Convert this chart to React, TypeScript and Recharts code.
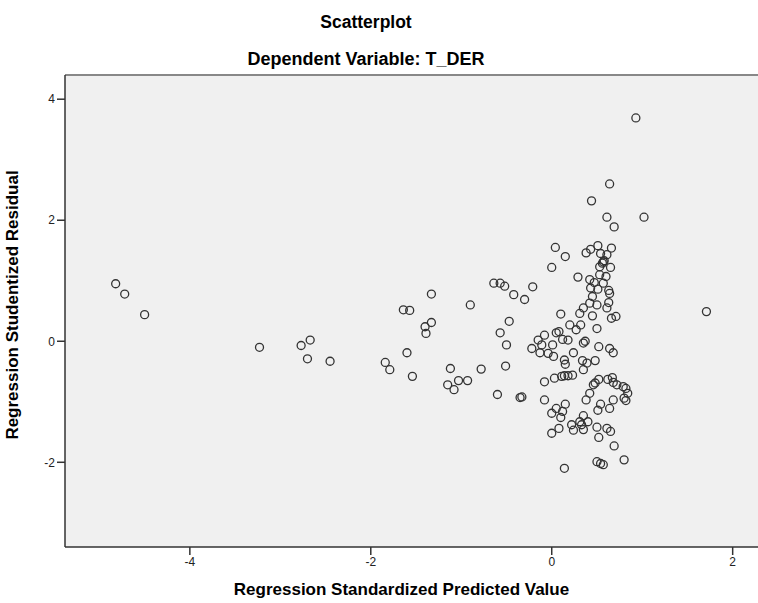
import React from "react";
import { ScatterChart, Scatter, XAxis, YAxis, CartesianGrid, ReferenceLine, Label } from "recharts";

const predicted = [
  -4.82, -4.72, -4.5, -3.23, -2.77, -2.67, -2.7, -2.45,
  -1.33, -1.64, -1.57, -1.4, -1.33, -1.39, -1.6, -1.84, -1.79, -1.54,
  -0.9, -1.12, -1.15, -1.08, -1.03, -0.93, -0.78,
  -0.64, -0.57, -0.52, -0.42, -0.47, -0.57, -0.5, -0.51, -0.6, -0.35, -0.33,
  0.93, 0.64, 0.44, 0.61, 1.02, 0.69, 0.04, 0.15, 0.0,
  0.38, 0.43, 0.51, 0.66, 0.54, 0.61, 0.57, 0.58, 0.56, 0.65, 0.53,
  0.29, 0.42, 0.53, 0.6, 0.47, 0.57, 0.43, 0.51, 0.63, 0.64, 0.45, 0.42, 0.5, 0.63, 0.61, 0.35, 0.31, 0.45, 0.66, 0.71, 0.1, 0.2, 0.32, 0.27, 0.5,
  -0.21, -0.3, -0.08, 0.05, 0.08, -0.15, -0.11, 0.12, 0.18, 0.35, 0.37, 0.01, 0.52, -0.22, 0.64,
  -0.13, -0.04, 0.02, 0.14, 0.15, 0.24, 0.34, 0.39, 0.35, 0.48, 0.68,
  -0.08, 0.03, 0.11, 0.14, 0.18, 0.23, -0.08, 0.15, 0.05, 0.12, 0.0, 0.1,
  0.52, 0.46, 0.48, 0.42, 0.38, 0.62, 0.67, 0.68, 0.72, 0.79, 0.82, 0.84, 0.8, 0.82, 0.68, 0.64, 0.54, 0.51,
  0.35, 0.4, 0.31, 0.33, 0.22, 0.24, 0.35, 0.08, 0.0, 0.5, 0.52, 0.61, 0.65, 0.69, 0.5, 0.54, 0.57, 0.8, 0.14, 1.71,
];

const residual = [
  0.95, 0.78, 0.44, -0.1, -0.07, 0.02, -0.29, -0.33,
  0.78, 0.52, 0.51, 0.24, 0.31, 0.13, -0.19, -0.35, -0.47, -0.58,
  0.6, -0.45, -0.72, -0.8, -0.65, -0.65, -0.46,
  0.96, 0.96, 0.91, 0.77, 0.33, 0.14, -0.06, -0.41, -0.88, -0.93, -0.92,
  3.69, 2.6, 2.32, 2.05, 2.05, 1.89, 1.55, 1.4, 1.22,
  1.46, 1.52, 1.58, 1.54, 1.45, 1.43, 1.31, 1.33, 1.29, 1.22, 1.23,
  1.06, 1.02, 1.1, 1.07, 0.97, 0.96, 0.88, 0.86, 0.84, 0.79, 0.74, 0.63, 0.6, 0.64, 0.55, 0.55, 0.46, 0.42, 0.38, 0.41, 0.45, 0.27, 0.27, 0.19, 0.21,
  0.9, 0.69, 0.1, 0.14, 0.16, 0.02, -0.06, 0.03, 0.02, -0.03, 0.0, -0.06, -0.09, -0.12, -0.12,
  -0.19, -0.2, -0.25, -0.31, -0.38, -0.19, -0.32, -0.36, -0.47, -0.32, -0.19,
  -0.67, -0.61, -0.58, -0.57, -0.57, -0.56, -0.97, -1.04, -1.11, -1.16, -1.19, -1.26,
  -0.63, -0.72, -0.69, -0.86, -0.97, -0.63, -0.6, -0.68, -0.72, -0.75, -0.78, -0.86, -0.94, -0.98, -0.97, -1.11, -1.04, -1.14,
  -1.23, -1.33, -1.33, -1.38, -1.38, -1.47, -1.46, -1.44, -1.52, -1.42, -1.59, -1.44, -1.49, -1.73, -1.99, -2.02, -2.04, -1.96, -2.1, 0.49,
];

const xTicks = [-4, -2, 0, 2];
const yTicks = [-2, 0, 2, 4];
const xDomain = [-5.38, 2.28];
const yDomain = [-3.4, 4.4];

const points = predicted.map((x, i) => ({ x, y: residual[i] }));

const FONT = "Arial, 'Liberation Sans', sans-serif";

const Ring = (props: any) => (
  <circle cx={props.cx} cy={props.cy} r={4} fill="none" stroke="#333" strokeWidth={1.3} />
);

export default function App() {
  return (
    <div style={{ position: "absolute", left: 0, top: 0, width: 758, height: 603, background: "#fff", fontFamily: FONT }}>
      <div style={{ position: "absolute", left: 0, width: 732, top: 12, textAlign: "center", fontWeight: "bold", fontSize: 17.5, color: "#000" }}>
        Scatterplot
      </div>
      <div style={{ position: "absolute", left: 0, width: 732, top: 49, textAlign: "center", fontSize: 18, color: "#000", fontWeight: "bold" }}>
        Dependent Variable: T_DER
      </div>
      <ScatterChart width={758} height={603} margin={{ top: 75, right: 0, bottom: 26, left: 0 }}>
        <CartesianGrid horizontal={false} vertical={false} fill="#f0f0f0" />
        <ReferenceLine y={yDomain[1]} stroke="#888" strokeWidth={2} ifOverflow="extendDomain" />
        <XAxis
          type="number"
          dataKey="x"
          domain={xDomain}
          ticks={xTicks}
          allowDataOverflow
          height={30}
          tickSize={8}
          stroke="#333"
          strokeWidth={1.5}
          tick={{ fill: "#222", fontSize: 12, fontFamily: FONT }}
        >
          <Label
            value="Regression Standardized Predicted Value"
            position="bottom"
            offset={6}
            dx={-10}
            style={{ fontWeight: "bold", fontSize: 17, fill: "#000", fontFamily: FONT }}
          />
        </XAxis>
        <YAxis
          type="number"
          dataKey="y"
          domain={yDomain}
          ticks={yTicks}
          allowDataOverflow
          width={65}
          tickSize={8}
          stroke="#333"
          strokeWidth={1.5}
          tick={{ fill: "#222", fontSize: 12, fontFamily: FONT }}
        >
          <Label
            value="Regression Studentized Residual"
            angle={-90}
            position="insideLeft"
            offset={12}
            dy={-6}
            style={{ fontWeight: "bold", fontSize: 17, fill: "#000", fontFamily: FONT, textAnchor: "middle" }}
          />
        </YAxis>
        <Scatter data={points} shape={Ring} isAnimationActive={false} />
      </ScatterChart>
    </div>
  );
}
